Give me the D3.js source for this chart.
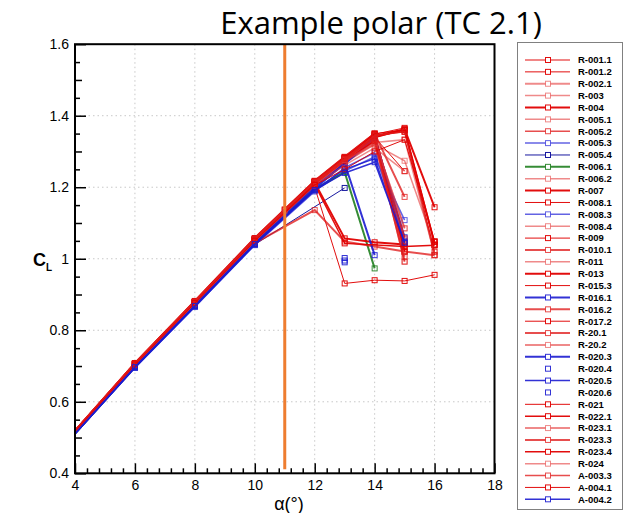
<!DOCTYPE html>
<html>
<head>
<meta charset="utf-8">
<script src="https://cdn.jsdelivr.net/npm/d3@7"></script>
<style>
  body { margin: 0; background: #fff; }
  svg { font-family: "Liberation Sans", Arial, Helvetica, sans-serif; }
</style>
</head>
<body>
<div id="chart"></div>
<script>
// ---- data ----
var seriesNames = ["R-001.1", "R-001.2", "R-002.1", "R-003", "R-004", "R-005.1", "R-005.2", "R-005.3",
    "R-005.4", "R-006.1", "R-006.2", "R-007", "R-008.1", "R-008.3", "R-008.4", "R-009", "R-010.1",
    "R-011", "R-013", "R-015.3", "R-016.1", "R-016.2", "R-017.2", "R-20.1", "R-20.2", "R-020.3",
    "R-020.4", "R-020.5", "R-020.6", "R-021", "R-022.1", "R-023.1", "R-023.3", "R-023.4", "R-024",
    "A-003.3", "A-004.1", "A-004.2"];

// angle of attack (deg) of each point, one list per series
var seriesAlpha = [
    [2, 6, 8, 10, 12, 13, 14, 15, 16],
    [2, 6, 8, 10, 12, 13, 14, 15, 16],
    [2, 6, 8, 10, 11, 12, 13, 14, 15],
    [2, 6, 8, 10, 12, 13, 14, 15],
    [2, 6, 8, 10, 12, 13, 14, 15],
    [2, 6, 8, 10, 12, 13, 14, 15, 16],
    [2, 6, 8, 10, 12, 13, 14, 15],
    [2, 6, 8, 10, 12, 13, 14, 15],
    [2, 6, 8, 10, 13],
    [2, 6, 8, 10, 12, 13, 14],
    [2, 6, 8, 10, 12, 13, 14, 15],
    [2, 6, 8, 10, 11, 12, 13, 14, 15, 16],
    [2, 6, 8, 10, 12, 13, 14, 15, 16],
    [2, 6, 8, 10, 12, 13, 14, 15],
    [2, 6, 8, 10, 12, 13, 14, 15, 16],
    [2, 6, 8, 10, 12, 13, 14, 15, 16],
    [2, 6, 8, 10, 12, 13, 14, 15, 16],
    [2, 6, 8, 10, 12, 13, 14, 15],
    [2, 6, 8, 10, 12, 13, 14, 15],
    [2, 6, 8, 10, 12, 13, 14, 15],
    [2, 6, 8, 10, 12, 13, 14, 15],
    [2, 6, 8, 10, 11, 12, 13, 14, 15],
    [2, 6, 8, 10, 12, 13, 14, 15, 16],
    [2, 6, 8, 10, 12, 13, 14, 15],
    [2, 6, 8, 10, 12, 13, 14, 15],
    [2, 6, 8, 10, 12, 13, 14],
    [13, 13],
    [2, 6, 8, 10, 12, 13, 14, 15],
    [13],
    [2, 6, 8, 10, 12, 13, 14, 15, 16],
    [2, 6, 8, 10, 12, 13, 14, 15],
    [2, 6, 8, 10, 11, 12, 13, 14, 15],
    [2, 6, 8, 10, 12, 13, 14, 15],
    [2, 6, 8, 10, 12, 13, 15, 16],
    [2, 6, 8, 10, 12, 13, 14, 15],
    [2, 6, 8, 10, 12, 13, 14, 15, 16],
    [2, 6, 8, 10, 12, 13, 14, 15, 16],
    [2, 6, 8, 10, 12, 13, 14, 15]
];

// lift coefficient of each point, same order
var seriesCL = [
    [0.33, 0.705, 0.878, 1.052, 1.212, 1.275, 1.345, 1.362, 1.048],
    [0.33, 0.706, 0.879, 1.054, 1.215, 1.278, 1.340, 1.359, 1.038],
    [0.33, 0.707, 0.880, 1.056, 1.135, 1.213, 1.282, 1.336, 1.046],
    [0.33, 0.704, 0.876, 1.050, 1.208, 1.270, 1.330, 1.085],
    [0.33, 0.708, 0.882, 1.058, 1.218, 1.285, 1.350, 1.020],
    [0.33, 0.703, 0.875, 1.048, 1.205, 1.268, 1.325, 1.333, 1.010],
    [0.33, 0.705, 0.877, 1.050, 1.210, 1.272, 1.330, 1.034],
    [0.325, 0.695, 0.865, 1.040, 1.190, 1.245, 1.285, 1.108],
    [0.325, 0.697, 0.868, 1.040, 1.198],
    [0.325, 0.698, 0.870, 1.043, 1.195, 1.242, 0.973],
    [0.33, 0.704, 0.876, 1.050, 1.207, 1.270, 1.328, 1.006],
    [0.33, 0.707, 0.880, 1.056, 1.137, 1.216, 1.282, 1.340, 1.362, 1.144],
    [0.33, 0.705, 0.878, 1.052, 1.200, 0.931, 0.940, 0.938, 0.955],
    [0.325, 0.695, 0.866, 1.038, 1.188, 1.255, 1.296, 1.050],
    [0.33, 0.704, 0.877, 1.051, 1.209, 1.268, 1.320, 1.274, 1.038],
    [0.33, 0.706, 0.879, 1.054, 1.214, 1.279, 1.345, 1.355, 1.020],
    [0.33, 0.702, 0.872, 1.044, 1.136, 1.048, 1.034, 1.020, 1.010],
    [0.33, 0.705, 0.878, 1.052, 1.211, 1.274, 1.330, 0.992],
    [0.33, 0.706, 0.879, 1.053, 1.213, 1.057, 1.046, 1.040],
    [0.33, 0.705, 0.878, 1.052, 1.212, 1.276, 1.340, 1.245],
    [0.325, 0.700, 0.872, 1.046, 1.202, 1.265, 1.338, 1.060],
    [0.33, 0.708, 0.881, 1.057, 1.138, 1.217, 1.284, 1.350, 1.173],
    [0.33, 0.707, 0.880, 1.055, 1.216, 1.283, 1.348, 1.366, 1.048],
    [0.33, 0.706, 0.879, 1.054, 1.214, 1.279, 1.340, 1.057],
    [0.33, 0.704, 0.877, 1.051, 1.209, 1.271, 1.330, 1.085],
    [0.325, 0.698, 0.869, 1.042, 1.196, 1.267, 1.010],
    [0.995, 1.002],
    [0.325, 0.696, 0.867, 1.040, 1.193, 1.250, 1.280, 1.045],
    [0.990],
    [0.33, 0.706, 0.879, 1.054, 1.214, 1.281, 1.350, 1.360, 1.040],
    [0.33, 0.705, 0.878, 1.052, 1.211, 1.274, 1.330, 1.020],
    [0.33, 0.706, 0.879, 1.053, 1.134, 1.212, 1.276, 1.320, 1.006],
    [0.33, 0.706, 0.879, 1.054, 1.213, 1.278, 1.335, 0.992],
    [0.33, 0.705, 0.877, 1.051, 1.208, 1.043, 1.034, 1.038],
    [0.33, 0.703, 0.875, 1.049, 1.204, 1.262, 1.310, 1.245],
    [0.33, 0.706, 0.879, 1.054, 1.214, 1.280, 1.345, 1.355, 1.010],
    [0.33, 0.704, 0.876, 1.050, 1.206, 1.250, 1.300, 1.333, 1.048],
    [0.325, 0.697, 0.868, 1.041, 1.192, 1.240, 1.270, 1.045]
];

var xTicks = [4, 6, 8, 10, 12, 14, 16, 18];
var yTicks = [0.4, 0.6, 0.8, 1, 1.2, 1.4, 1.6];
var refAlpha = 11;   // orange vertical marker

// ---- styles (colour key and line width for each series) ----
var palette = {
    red: "#e00000", redpink: "#e01c1c", pink: "#e43c3c",
    blue: "#1c1cd0", lightblue: "#3c3cdc", darkblue: "#0c0c9a", green: "#1f7f1f"
};
var paletteOpacity = { red: 0.95, redpink: 0.78, pink: 0.6, blue: 0.9, lightblue: 0.8, darkblue: 0.95, green: 0.9 };
var seriesColor = ["red", "red", "pink", "pink", "red", "pink", "redpink", "lightblue",
    "darkblue", "green", "pink", "red", "red", "lightblue", "pink", "red", "redpink",
    "pink", "red", "red", "blue", "redpink", "red", "redpink", "pink", "blue",
    "blue", "blue", "blue", "red", "red", "pink", "redpink", "red", "pink",
    "redpink", "red", "blue"];
var seriesWidth = [1, 1, 2, 1.5, 2, 1.5, 1.5, 1.5, 1, 2, 1.5, 2, 1, 1.5, 1.5, 1, 2, 1.5, 2,
    1, 2, 2, 1, 2, 2, 2, 0, 1.5, 0, 1, 1.5, 2, 2, 1.5, 1.5, 1.5, 1, 1.5];

// ---- layout ----
var W = 626, H = 513;
var plot = { left: 75, right: 494.5, top: 44.2, bottom: 473.3 };

var svg = d3.select("#chart").append("svg")
    .attr("width", W)
    .attr("height", H);

var x = d3.scaleLinear().domain([4, 18]).range([plot.left, plot.right]);
var y = d3.scaleLinear().domain([0.4, 1.6]).range([plot.bottom, plot.top]);

// title
svg.append("text")
    .attr("x", 381)
    .attr("y", 34)
    .attr("text-anchor", "middle")
    .style("font-family", "'Open Sans', 'Liberation Sans', sans-serif")
    .style("font-size", "31px")
    .text("Example polar (TC 2.1)");

// dotted grid
var grid = svg.append("g").attr("class", "grid");
grid.selectAll("line.gx")
    .data(xTicks.slice(1, -1))
    .enter().append("line")
    .attr("x1", function (d) { return x(d); })
    .attr("x2", function (d) { return x(d); })
    .attr("y1", plot.top)
    .attr("y2", plot.bottom)
    .attr("stroke", "#c8c8c8")
    .attr("stroke-width", 1)
    .attr("stroke-dasharray", "1.5,3");
grid.selectAll("line.gy")
    .data(yTicks.slice(1, -1))
    .enter().append("line")
    .attr("y1", function (d) { return y(d); })
    .attr("y2", function (d) { return y(d); })
    .attr("x1", plot.left)
    .attr("x2", plot.right)
    .attr("stroke", "#c8c8c8")
    .attr("stroke-width", 1)
    .attr("stroke-dasharray", "1.5,3");

// clip
svg.append("clipPath").attr("id", "clip")
    .append("rect")
    .attr("x", plot.left).attr("y", plot.top)
    .attr("width", plot.right - plot.left)
    .attr("height", plot.bottom - plot.top);

var series = seriesNames.map(function (name, i) {
    return {
        name: name,
        color: palette[seriesColor[i]],
        op: paletteOpacity[seriesColor[i]],
        width: seriesWidth[i],
        pts: seriesAlpha[i].map(function (a, j) { return { a: a, cl: seriesCL[i][j] }; })
    };
});

var line = d3.line()
    .x(function (d) { return x(d.a); })
    .y(function (d) { return y(d.cl); });

var marks = svg.append("g").attr("clip-path", "url(#clip)");

var groups = marks.selectAll("g.series")
    .data(series)
    .enter().append("g")
    .attr("class", "series");

groups.filter(function (d) { return d.width > 0; })
    .append("path")
    .attr("d", function (d) { return line(d.pts); })
    .attr("fill", "none")
    .attr("stroke", function (d) { return d.color; })
    .attr("stroke-width", function (d) { return d.width; })
    .attr("stroke-opacity", function (d) { return d.op; });

var ms = 5;
groups.selectAll("rect")
    .data(function (d) { return d.pts.map(function (p) { return { p: p, c: d.color, op: d.op }; }); })
    .enter().append("rect")
    .attr("x", function (d) { return x(d.p.a) - ms / 2; })
    .attr("y", function (d) { return y(d.p.cl) - ms / 2; })
    .attr("width", ms)
    .attr("height", ms)
    .attr("fill", "none")
    .attr("stroke", function (d) { return d.c; })
    .attr("stroke-width", 1)
    .attr("stroke-opacity", function (d) { return d.op; });

// orange reference line
svg.append("line")
    .attr("x1", x(refAlpha)).attr("x2", x(refAlpha))
    .attr("y1", plot.top)
    .attr("y2", plot.bottom - 4)
    .attr("stroke", "#ee7d30")
    .attr("stroke-width", 3);

// axes with inward ticks
var xMinor = d3.range(4, 18.01, 0.4).filter(function (v) { return Math.abs(v - Math.round(v / 2) * 2) > 1e-6; });
var yMinor = d3.range(0.45, 1.6, 0.1);
var yMid = d3.range(0.5, 1.6, 0.2);

var fmt = function (d) { return +d.toFixed(2); };

svg.append("g")
    .attr("transform", "translate(0," + plot.bottom + ")")
    .call(d3.axisBottom(x).tickValues(xTicks).tickFormat(fmt).tickSizeInner(-10).tickSizeOuter(0).tickPadding(7));
svg.append("g")
    .attr("transform", "translate(0," + plot.bottom + ")")
    .call(d3.axisBottom(x).tickValues(xMinor).tickFormat("").tickSizeInner(-5).tickSizeOuter(0));

svg.append("g")
    .attr("transform", "translate(" + plot.left + ",0)")
    .call(d3.axisLeft(y).tickValues(yTicks).tickFormat(fmt).tickSizeInner(-11).tickSizeOuter(0).tickPadding(6));
svg.append("g")
    .attr("transform", "translate(" + plot.left + ",0)")
    .call(d3.axisLeft(y).tickValues(yMid).tickFormat("").tickSizeInner(-7).tickSizeOuter(0));
svg.append("g")
    .attr("transform", "translate(" + plot.left + ",0)")
    .call(d3.axisLeft(y).tickValues(yMinor).tickFormat("").tickSizeInner(-5).tickSizeOuter(0));

svg.selectAll(".domain").remove();
svg.selectAll(".tick line").attr("stroke", "#000").attr("stroke-width", 1.5);
svg.selectAll(".tick text")
    .style("font-size", "14px")
    .attr("fill", "#000");

// frame
svg.append("rect")
    .attr("x", plot.left).attr("y", plot.top)
    .attr("width", plot.right - plot.left)
    .attr("height", plot.bottom - plot.top)
    .attr("fill", "none")
    .attr("stroke", "#000")
    .attr("stroke-width", 2);

// axis titles
svg.append("text")
    .attr("x", 289)
    .attr("y", 510)
    .attr("text-anchor", "middle")
    .style("font-size", "18px")
    .text("\u03b1(\u00b0)");

var yt = svg.append("text")
    .attr("x", 33)
    .attr("y", 266)
    .style("font-size", "18px")
    .style("font-weight", "bold");
yt.append("tspan").text("C");
yt.append("tspan").attr("dy", 5).style("font-size", "10px").text("L");

// legend
var leg = svg.append("g");
leg.append("rect")
    .attr("x", 517.5).attr("y", 42.5)
    .attr("width", 105).attr("height", 467)
    .attr("fill", "#fff")
    .attr("stroke", "#808080")
    .attr("stroke-width", 1);

var legY = d3.scaleLinear().domain([0, seriesNames.length - 1]).range([60, 499.3]);
var items = leg.selectAll("g.item")
    .data(series)
    .enter().append("g")
    .attr("class", "item")
    .attr("transform", function (d, i) { return "translate(0," + legY(i) + ")"; });

items.filter(function (d) { return d.width > 0; })
    .append("line")
    .attr("x1", 525).attr("x2", 570)
    .attr("stroke", function (d) { return d.color; })
    .attr("stroke-width", function (d) { return d.width; })
    .attr("stroke-opacity", function (d) { return d.op; });
items.append("rect")
    .attr("x", 548 - ms / 2).attr("y", -ms / 2)
    .attr("width", ms).attr("height", ms)
    .attr("fill", "#fff")
    .attr("stroke", function (d) { return d.color; })
    .attr("stroke-opacity", function (d) { return d.op; })
    .attr("stroke-width", 1);
items.append("text")
    .attr("x", 578)
    .attr("dy", "0.35em")
    .style("font-size", "9.5px")
    .style("font-weight", "bold")
    .text(function (d) { return d.name; });
</script>
</body>
</html>
